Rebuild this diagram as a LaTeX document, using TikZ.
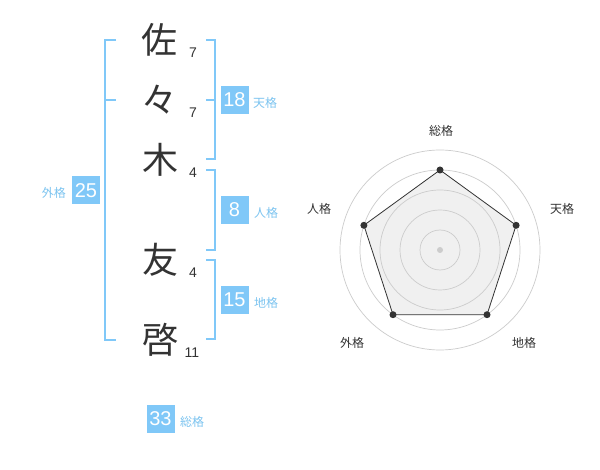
\documentclass[tikz,border=0pt]{standalone}
\usepackage{fontspec}
\setmainfont{Liberation Sans}
\newfontfamily\jp{Noto Sans CJK JP}
\definecolor{bl}{HTML}{80C8F8}
\definecolor{bltext}{HTML}{7CC4F0}
\definecolor{dk}{HTML}{333333}
\definecolor{gr}{HTML}{CCCCCC}
\definecolor{fillg}{HTML}{F0F0F0}
\begin{document}
\begin{tikzpicture}[x=1pt,y=-1pt,
  kanji/.style={font=\jp\fontsize{36}{36}\selectfont, text=dk, inner sep=0pt},
  num/.style={font=\fontsize{14}{14}\selectfont, text=dk, anchor=base, inner sep=0pt},
  valbox/.style={fill=bl, text=white, font=\fontsize{20}{20}\selectfont, minimum width=28pt, minimum height=28pt, inner sep=0pt},
  lbl/.style={text=bltext, font=\jp\fontsize{12}{12}\selectfont, inner sep=0pt},
  brk/.style={draw=bl, line width=2pt},
  rlbl/.style={text=dk, font=\jp\fontsize{12}{12}\selectfont, inner sep=0pt},
  ring/.style={draw=gr, line width=0.7pt},
  dot/.style={circle, fill=dk, inner sep=0pt, minimum size=7pt}
]
\useasboundingbox[fill=white] (0,0) rectangle (600,470);

% kanji
\node[kanji] (k1) at (159,40) {佐};
\node[kanji] (k2) at (159,100) {々};
\node[kanji] (k3) at (160,160) {木};
\node[kanji] (k4) at (160,260) {友};
\node[kanji] (k5) at (160,340) {啓};

% stroke numbers
\node[num] (n1) at (193,58) {7};
\node[num] (n2) at (193,118) {7};
\node[num] (n3) at (193,178) {4};
\node[num] (n4) at (193,278) {4};
\node[num] (n5) at (192,358) {11};

% brackets
\draw[brk] (116,40) -- (105,40) -- (105,340) -- (116,340);
\draw[brk] (105,100) -- (116,100);
\draw[brk] (206,40) -- (215,40) -- (215,159) -- (206,159);
\draw[brk] (206,100) -- (215,100);
\draw[brk] (206,170) -- (215,170) -- (215,250) -- (206,250);
\draw[brk] (206,260) -- (215,260) -- (215,339) -- (206,339);

% value boxes
\node[valbox] (b18) at (234.5,100) {18};
\node[lbl, anchor=west] (l18) at (253,103) {天格};
\node[valbox] (b8) at (234.5,210) {8};
\node[lbl, anchor=west] (l8) at (254,213) {人格};
\node[valbox] (b15) at (234.5,300) {15};
\node[lbl, anchor=west] (l15) at (254,303) {地格};
\node[valbox] (b25) at (86,190.5) {25};
\node[lbl, anchor=east] (l25) at (66,193) {外格};
\node[valbox] (b33) at (160.5,419) {33};
\node[lbl, anchor=west] (l33) at (180,422) {総格};

% radar
\coordinate (c) at (440,250);
\coordinate (pS) at (440,170);
\coordinate (pT) at (516.1,225.3);
\coordinate (pC) at (487,314.7);
\coordinate (pG) at (393,314.7);
\coordinate (pJ) at (363.9,225.3);
\fill[fillg] (pS) -- (pT) -- (pC) -- (pG) -- (pJ) -- cycle;
\foreach \r in {20,40,60,80,100} \draw[ring] (c) circle[radius=\r];
\draw[dk, line width=0.8pt] (pS) -- (pT) -- (pC) -- (pG) -- (pJ) -- cycle;
\foreach \p in {pS,pT,pC,pG,pJ} \node[dot] at (\p) {};
\node[circle, fill=gr, inner sep=0pt, minimum size=6pt] (cd) at (c) {};

\node[rlbl] (rS) at (441,131) {総格};
\node[rlbl] (rT) at (562,209) {天格};
\node[rlbl] (rC) at (524,343) {地格};
\node[rlbl] (rG) at (352,343) {外格};
\node[rlbl] (rJ) at (319,209) {人格};
\end{tikzpicture}
\end{document}
